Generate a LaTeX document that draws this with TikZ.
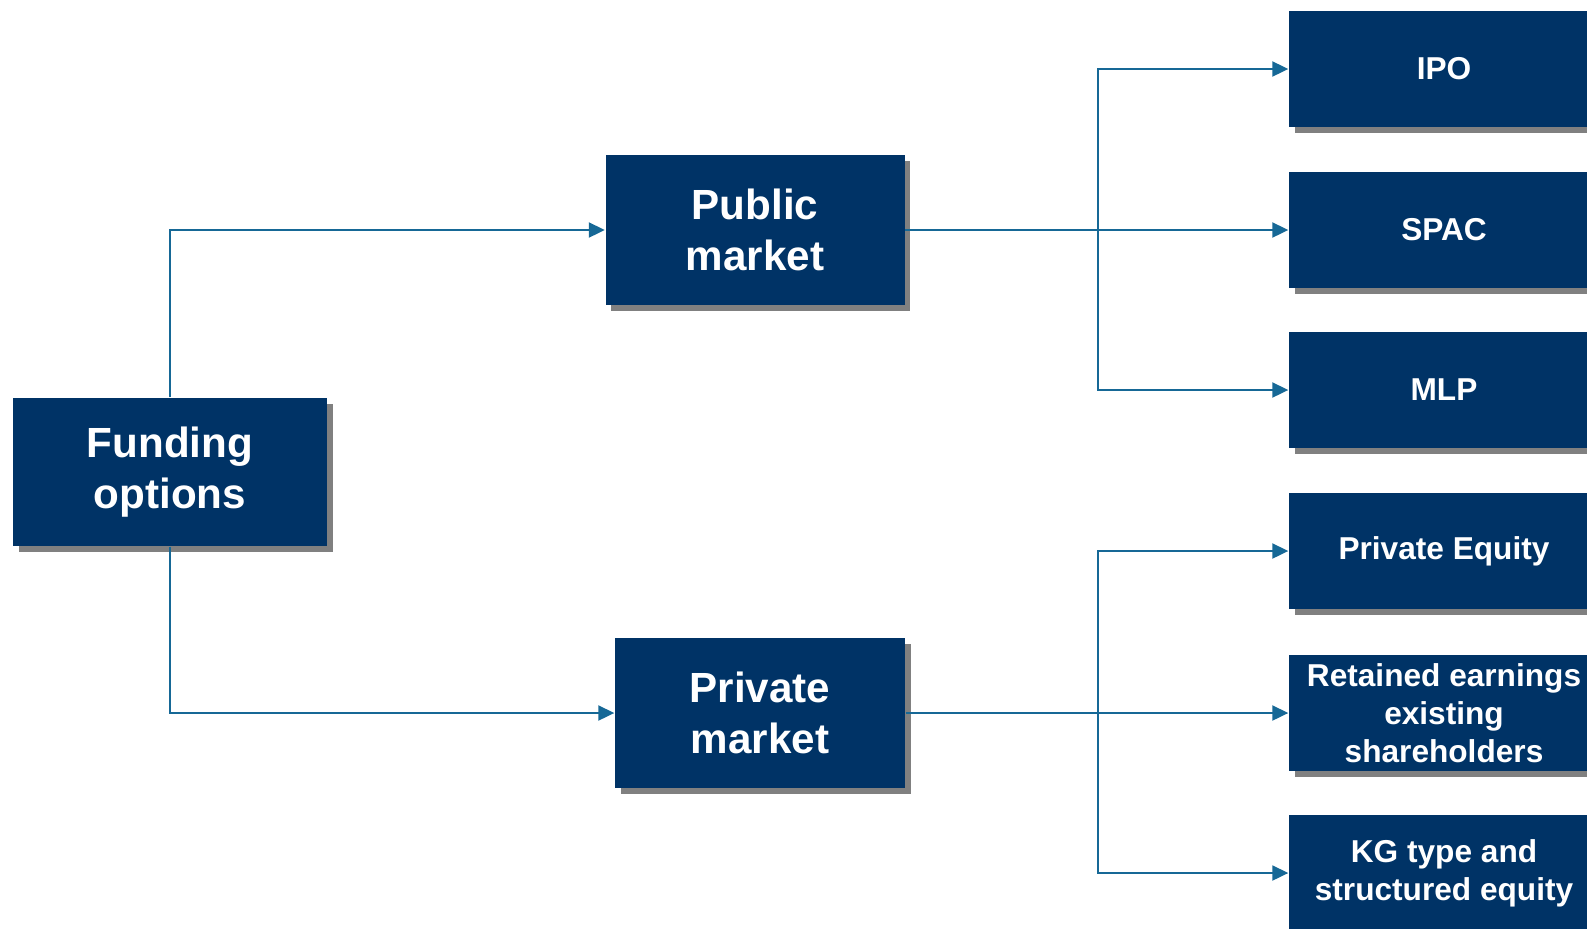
\documentclass[tikz,border=0pt]{standalone}
\usepackage{fontspec}
\setmainfont{Liberation Sans}
\usetikzlibrary{arrows.meta,shadows,positioning}
\definecolor{boxblue}{RGB}{0,51,102}
\definecolor{linkblue}{RGB}{22,104,150}
\definecolor{shadowgray}{RGB}{128,128,128}

\begin{document}
\begin{tikzpicture}[x=0.1mm, y=-0.1mm,
    box/.style={fill=boxblue, text=white, align=center, inner sep=0pt,
        drop shadow={shadow xshift=0.55mm, shadow yshift=-0.55mm, fill=shadowgray, opacity=1}},
    big/.style={box, font=\fontsize{12}{14.6}\selectfont\bfseries},
    small/.style={box, minimum width=31mm, minimum height=11.6mm,
        font=\fontsize{9}{10.9}\selectfont\bfseries},
    link/.style={draw=linkblue, line width=0.2mm, -{Triangle[length=1.6mm, width=1.5mm]}}]
    \useasboundingbox (0,0) rectangle (1587,928);

    \node[big, minimum width=31.4mm, minimum height=14.8mm] (fund) at (170, 472) {Funding\\options};
    \node[big, minimum width=29.9mm, minimum height=15mm] (pub) at (755, 230) {Public\\market};
    \node[big, minimum width=29mm, minimum height=15mm] (priv) at (760, 713) {Private\\market};

    \node[small] (ipo) at (1444, 69) {IPO};
    \node[small] (spac) at (1444, 230) {SPAC};
    \node[small] (mlp) at (1444, 390) {MLP};
    \node[small] (pe) at (1444, 551) {Private Equity};
    \node[small] (ret) at (1444, 713) {Retained earnings\\existing\\shareholders};
    \node[small] (kg) at (1444, 873) {KG type and\\structured equity};

    \coordinate (jpub) at (1098, 230);
    \coordinate (jpriv) at (1098, 713);

    \draw[link] (fund.north) |- (pub.west);
    \draw[link] (fund.south) |- (priv.west);

    \draw[link] (pub.east) -- (spac.west);
    \draw[link] (jpub) |- (ipo.west);
    \draw[link] (jpub) |- (mlp.west);

    \draw[link] (priv.east) -- (ret.west);
    \draw[link] (jpriv) |- (pe.west);
    \draw[link] (jpriv) |- (kg.west);
\end{tikzpicture}
\end{document}
